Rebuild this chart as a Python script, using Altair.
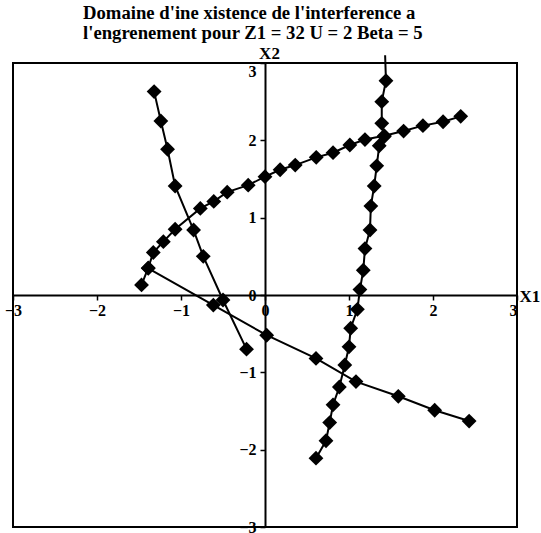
import altair as alt
import pandas as pd

# Interference domain curves, one list per series (X1 abscissa, X2 ordinate)
curve_a_x1 = [-1.47, -1.39, -1.33, -1.21, -1.07, -0.77, -0.61, -0.45, -0.20, 0.00,
              0.18, 0.36, 0.61, 0.81, 1.01, 1.19, 1.42, 1.65, 1.88, 2.12, 2.33]
curve_a_x2 = [0.13, 0.35, 0.55, 0.69, 0.85, 1.12, 1.21, 1.33, 1.42, 1.53,
              1.62, 1.68, 1.78, 1.84, 1.94, 2.01, 2.06, 2.12, 2.19, 2.24, 2.31]

curve_b_x1 = [-1.32, -1.24, -1.16, -1.07, -0.85, -0.735, -0.50, -0.22]
curve_b_x2 = [2.63, 2.25, 1.885, 1.41, 0.84, 0.50, -0.065, -0.70]

curve_c_x1 = [1.43, 1.44, 1.39, 1.39, 1.42, 1.36, 1.33, 1.30, 1.26, 1.25, 1.19,
              1.17, 1.13, 1.10, 1.02, 1.00, 0.95, 0.885, 0.81, 0.77, 0.726, 0.607]
curve_c_x2 = [3.10, 2.77, 2.50, 2.22, 2.05, 1.93, 1.67, 1.41, 1.15, 0.84, 0.60,
              0.32, 0.07, -0.185, -0.43, -0.67, -0.905, -1.19, -1.42, -1.65, -1.885, -2.11]

curve_d_x1 = [-1.39, -0.615, 0.02, 0.607, 1.083, 1.587, 2.02, 2.43]
curve_d_x2 = [0.345, -0.13, -0.52, -0.82, -1.12, -1.31, -1.49, -1.63]

tick_values = [-3, -2, -1, 0, 1, 2, 3]
title_lines = ["Domaine d'ine xistence de l'interference a",
               "l'engrenement pour Z1 = 32 U = 2 Beta = 5"]

rows = []
for name, xs, ys in [("A", curve_a_x1, curve_a_x2), ("B", curve_b_x1, curve_b_x2),
                     ("C", curve_c_x1, curve_c_x2), ("D", curve_d_x1, curve_d_x2)]:
    for i, (x, y) in enumerate(zip(xs, ys)):
        rows.append({"serie": name, "k": i, "X1": x, "X2": y})
df = pd.DataFrame(rows)

FONT = "Liberation Serif"
W, H = 504, 464

xscale = alt.Scale(domain=[-3, 3], nice=False, zero=False)
yscale = alt.Scale(domain=[-3, 3], nice=False, zero=False)

common = dict(domainColor="black", domainWidth=2, tickColor="black", tickWidth=1.5,
              tickSize=5, labelFont=FONT, labelFontSize=16, labelFontWeight="bold",
              labelColor="black", grid=False, labelOverlap=False,
              labelFlush=False, values=tick_values, titleFont=FONT, titleFontSize=17,
              titleFontWeight="bold", titleColor="black", titleAngle=0)

# axes cross at the origin: pull them inwards from the frame edges
xaxis = alt.Axis(offset=-H / 2, title="X1", titleX=W + 2, titleY=1,
                 titleAlign="left", titleBaseline="middle", labelPadding=2,
                 labelAlign={"expr": "datum.value == 3 ? 'right' : 'center'"},
                 **common)
yaxis = alt.Axis(offset=-W / 2, title="X2", titleX=4, titleY=-1,
                 titleAlign="center", titleBaseline="bottom", labelPadding=4,
                 labelBaseline={"expr": "datum.value == 3 ? 'top' : 'middle'"},
                 **common)

base = alt.Chart(df).encode(
    x=alt.X("X1:Q", scale=xscale, axis=xaxis),
    y=alt.Y("X2:Q", scale=yscale, axis=yaxis),
    detail="serie:N",
    order="k:Q",
)

lines = base.mark_line(color="black", strokeWidth=2, clip=False)
points = base.mark_point(shape="diamond", filled=True, color="black", size=220,
                         opacity=1, clip=True)

chart = (lines + points).properties(
    width=W, height=H,
    title=alt.TitleParams(text=title_lines, font=FONT, fontSize=18.7, fontWeight="bold",
                          color="black", anchor="start", frame="group", dx=70,
                          offset=1, lineHeight=20),
    autosize=alt.AutoSizeParams(type="none"),
    padding={"left": 13, "top": 63, "right": 24, "bottom": 6},
).configure(background="white").configure_view(stroke="black", strokeWidth=2)

chart.save("out.html", embed_options={"renderer": "svg", "actions": False})
